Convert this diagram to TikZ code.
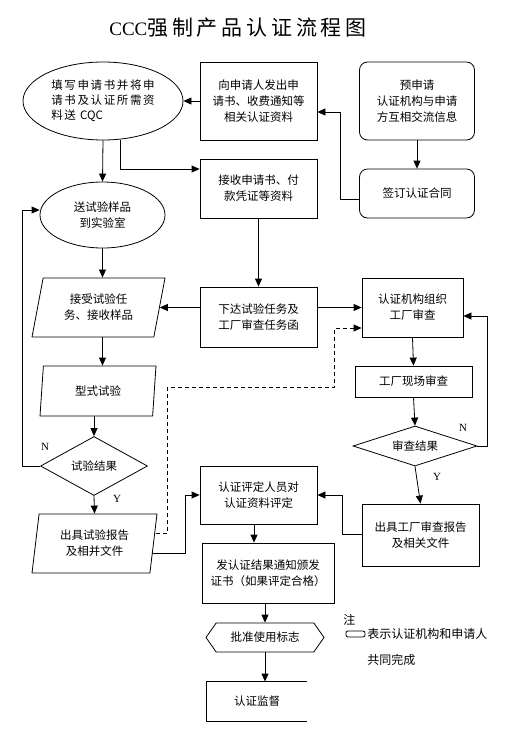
\documentclass[tikz,border=0pt]{standalone}
\usepackage{fontspec}
\setmainfont{Noto Sans CJK SC}
\newfontfamily\serifrm{Liberation Serif}
\usetikzlibrary{arrows.meta,shapes.geometric,shapes.symbols}

\begin{document}
\begin{tikzpicture}[
  x=1pt, y=-1pt,
  line width=0.8pt,
  >={Triangle[length=8pt,width=7pt]},
  every node/.style={font=\fontsize{11.5}{16}\selectfont},
  box/.style={draw, align=center, inner sep=2pt},
  rbox/.style={box, rounded corners=8pt},
  oval/.style={draw, ellipse, align=center, inner sep=0pt},
  para/.style={draw, trapezium, trapezium left angle=#1,
               trapezium right angle={180-#1}, trapezium stretches body,
               align=center, inner sep=2pt},
  dec/.style={draw, diamond, aspect=2, inner sep=0pt},
  lbl/.style={font=\serifrm\fontsize{11}{12}\selectfont, inner sep=0pt},
]
  \useasboundingbox (0,0) rectangle (527,745);

  %% title
  \node (title) at (238,28)
    {\fontsize{21}{24}\selectfont{\serifrm\fontsize{19}{24}\selectfont CCC}\addfontfeature{LetterSpace=18}强制产品认证流程图};

  %% top row
  \node[oval, align=left, minimum width=160, minimum height=78,
        font=\fontsize{11.5}{15}\selectfont\addfontfeature{LetterSpace=14}] (app) at (103,101)
    {填写申请书并将申\\请书及认证所需资\\料送 {\addfontfeature{LetterSpace=0}CQC}};
  \node[box, minimum width=117, minimum height=78] (issue) at (258.5,101)
    {向申请人发出申\\请书、收费通知等\\相关认证资料};
  \node[rbox, minimum width=115, minimum height=78] (pre) at (417,101)
    {预申请\\认证机构与申请\\方互相交流信息};
  \node[rbox, minimum width=115, minimum height=49] (contract) at (417,193.5)
    {签订认证合同};
  \node[box, minimum width=117, minimum height=59] (recv) at (258.5,188.5)
    {接收申请书、付\\款凭证等资料};

  %% test branch - left
  \node[oval, minimum width=125, minimum height=66] (sample) at (102.5,215)
    {送试验样品\\到实验室};
  \node[para=70, minimum width=133, minimum height=59] (accept) at (98.5,307.5)
    {接受试验任\\务、接收样品};
  \node[para=77, minimum width=116, minimum height=50] (typet) at (98,391)
    {型式试验};
  \node[dec, minimum width=107, minimum height=59] (tres) at (94,466)
    {试验结果};
  \node[para=77, minimum width=125, minimum height=59] (rep) at (94.5,543.5)
    {出具试验报告\\及相并文件};

  %% centre column
  \node[box, minimum width=117, minimum height=60] (task) at (258.5,317)
    {下达试验任务及\\工厂审查任务函};
  \node[box, minimum width=117, minimum height=58] (eval) at (258.5,495)
    {认证评定人员对\\认证资料评定};
  \node[box, minimum width=132, minimum height=60] (cert) at (268,573)
    {发认证结果通知颁发\\证书（如果评定合格）};
  \node[draw, signal, signal to=west and east, signal pointer angle=110,
        minimum width=118, minimum height=29, inner sep=2pt] (mark) at (265,637.5)
    {批准使用标志};
  \node[minimum width=100, minimum height=39] (mon) at (257,701.5) {认证监督};
  \draw (mon.north east) -- (mon.north west) -- (mon.south west) -- (mon.south east);

  %% factory branch - right
  \node[box, minimum width=101, minimum height=59] (org) at (412.5,307.5)
    {认证机构组织\\工厂审查};
  \node[box, minimum width=117, minimum height=31] (site) at (413.5,381.5)
    {工厂现场审查};
  \node[dec, minimum width=124, minimum height=40] (audit) at (415,446)
    {审查结果};
  \node[box, minimum width=117, minimum height=62] (frep) at (420.5,535)
    {出具工厂审查报告\\及相关文件};

  %% legend
  \node[anchor=west, inner sep=0pt, font=\fontsize{12}{14}\selectfont] (note) at (343,620) {注};
  \node[draw, rounded corners=2pt, minimum width=19, minimum height=6, inner sep=0pt] (key) at (355.5,634) {};
  \node[anchor=west, inner sep=0pt, font=\fontsize{12}{14}\selectfont] (keytxt) at (367,634) {表示认证机构和申请人};
  \node[anchor=west, inner sep=0pt, font=\fontsize{12}{14}\selectfont] (keytxt2) at (367,660) {共同完成};

  %% connectors
  \draw[->] (issue.west) -- (app.east);
  \draw[->] (app.south) -- (sample.north);
  \draw[->] ([xshift=17pt]app.south) |- ([yshift=19.5pt]recv.west);
  \draw[->] (pre.south) -- (contract.north);
  \draw[->] ([yshift=-5.5pt]contract.west) -- ++(-19,0) |- ([yshift=-11pt]issue.east);
  \draw[->] (recv.south) -- (task.north);
  \draw[->] (sample.south) -- (sample.south |- accept.north);
  \draw[->] (task.west |- accept.east) -- (accept.east);
  \draw[->] (task.east |- org.west) -- (org.west);
  \draw[->] (sample.south |- accept.south) -- (sample.south |- typet.north);
  \draw[->] (tres.north |- typet.south) -- (tres.north);
  \draw[->] (tres.west) -- ++(-18,0) |- ([yshift=5pt]sample.west);
  \draw[->] (tres.south) -- (rep.north);
  \draw[->, dash pattern=on 4pt off 3pt] ([xshift=2pt,yshift=10.5pt]rep.east) -- ++(12,0) -- ++(0,-146)
    -| ([xshift=-27pt,yshift=-20.5pt]org.west) -- ([yshift=-20.5pt]org.west);
  \draw[->] ([xshift=-2pt,yshift=-9.5pt]rep.east) -- ++(34,0) |- (eval.west);
  \draw[->] ([xshift=-4.5pt]eval.south) -- ([xshift=-4.5pt]eval.south |- cert.north);
  \draw[->] (mark.north |- cert.south) -- (mark.north);
  \draw[->] (mark.south) -- (mark.south |- mon.north);
  \draw[->] (org.south) -- (site.north);
  \draw[->] (site.south) -- (audit.north);
  \draw[->] (audit.east) -- ++(10,0) |- ([yshift=-8.5pt]org.east);
  \draw[->] (audit.south) -- (frep.north);
  \draw[->] ([yshift=1pt]frep.west) -- ++(-19,0) |- (eval.east);

  %% decision labels
  \node[lbl] (tres_n) at (45,447) {N};
  \node[lbl] (tres_y) at (117,499) {Y};
  \node[lbl] (audit_n) at (463,428) {N};
  \node[lbl] (audit_y) at (437,477) {Y};
\end{tikzpicture}
\end{document}
